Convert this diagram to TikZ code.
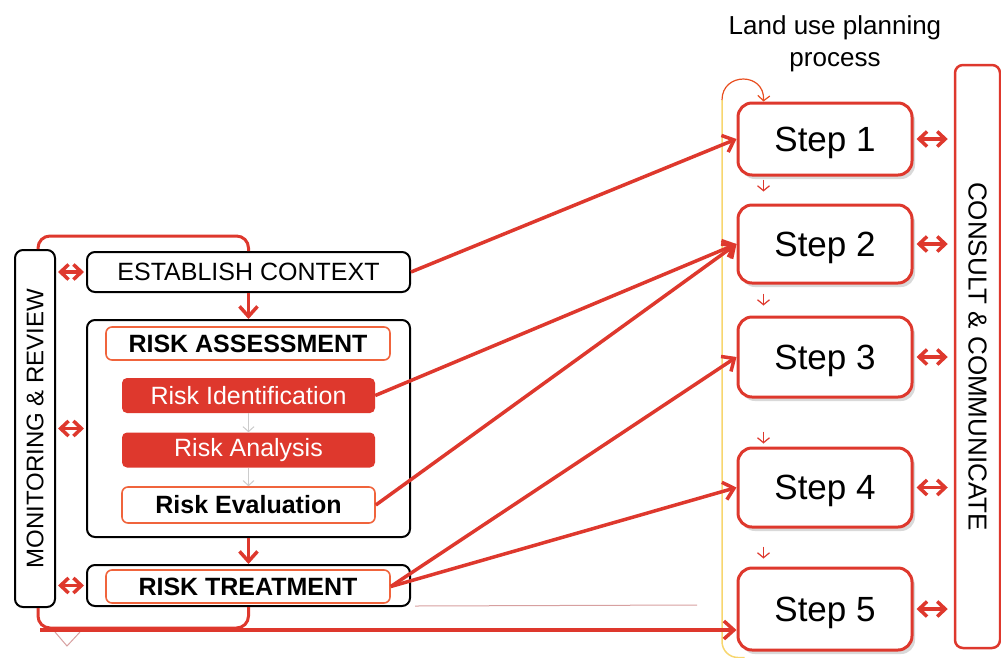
\documentclass[tikz,border=0pt]{standalone}
\usepackage{fontspec}
\setmainfont{Liberation Sans}
\usepackage{xcolor}
\usepackage{tikz}
\usetikzlibrary{shapes.geometric, arrows.meta, shadows, calc}
\definecolor{riskred}{RGB}{222,56,45}
\definecolor{riskorange}{RGB}{240,100,60}
\definecolor{planyellow}{RGB}{247,214,110}
\definecolor{faintred}{RGB}{215,160,160}
\tikzstyle{blkbox} = [rectangle, rounded corners=8pt, draw=black, line width=2pt, inner sep=0pt, fill=white]
\tikzstyle{orgbox} = [rectangle, rounded corners=6pt, draw=riskorange, line width=1.6pt, inner sep=0pt, fill=white, font=\bfseries\fontsize{25}{30}\selectfont]
\tikzstyle{redbox} = [rectangle, rounded corners=5pt, fill=riskred, text=white, inner sep=0pt, minimum width=253pt, minimum height=35pt, font=\fontsize{25}{30}\selectfont]
\tikzstyle{stepbox} = [rectangle, rounded corners=14pt, draw=riskred, line width=3pt, fill=white, minimum width=174pt, text centered, text depth=0pt, font=\fontsize{35}{40}\selectfont, drop shadow={opacity=0.3, shadow xshift=3pt, shadow yshift=-4pt}]
\tikzstyle{link} = [riskred, line width=3.5pt, -{Straight Barb[length=10pt,width=18pt]}]
\tikzstyle{dbl} = [riskred, line width=3.5pt, {Straight Barb[length=8pt,width=15pt]}-{Straight Barb[length=8pt,width=15pt]}]
\tikzstyle{tiny} = [riskred, line width=1.2pt, -{Straight Barb[length=5pt,width=12pt]}]
\tikzstyle{faint} = [black!20, line width=1pt, -{Straight Barb[length=5pt,width=11pt]}]

\begin{document}
\begin{tikzpicture}[x=1pt, y=-1pt]
    \useasboundingbox (0,0) rectangle (1001,657);

    % Left column: risk management
    \node (mon) [blkbox, minimum width=40pt, minimum height=357pt, font=\fontsize{24}{28}\selectfont] at (35,428.5) {\rotatebox{90}{MONITORING \& REVIEW}};
    \node (ctx) [blkbox, minimum width=323pt, minimum height=40pt, font=\fontsize{25}{30}\selectfont] at (248.5,272) {ESTABLISH CONTEXT};
    \node (assess) [blkbox, minimum width=323pt, minimum height=217pt] at (248.5,428.5) {};
    \node (asstitle) [orgbox, minimum width=284pt, minimum height=33pt] at (248,343.5) {RISK ASSESSMENT};
    \node (ident) [redbox] at (248.5,395.5) {Risk Identification};
    \node (anal) [redbox] at (248.5,450) {Risk Analysis};
    \node (eval) [orgbox, minimum width=253pt, minimum height=36pt] at (248.5,505) {Risk Evaluation};
    \node (treatout) [blkbox, minimum width=323pt, minimum height=41pt] at (248.5,585.5) {};
    \node (treat) [orgbox, minimum width=284pt, minimum height=33pt] at (248,586.5) {RISK TREATMENT};

    % Right column: land use planning
    \node (title) [align=center, font=\fontsize{26}{32}\selectfont] at (835,44) {Land use planning\\process};
    \node (s1) [stepbox, minimum height=72pt] at (825,139) {Step 1};
    \node (s2) [stepbox, minimum height=78pt] at (825,244) {Step 2};
    \node (s3) [stepbox, minimum height=80pt] at (825,357) {Step 3};
    \node (s4) [stepbox, minimum height=79pt] at (825,487.5) {Step 4};
    \node (s5) [stepbox, minimum height=82pt] at (825,609) {Step 5};
    \node (con) [rectangle, rounded corners=8pt, draw=riskred, line width=2.5pt, inner sep=0pt, minimum width=45pt, minimum height=583pt, font=\fontsize{26}{30}\selectfont] at (977.5,356.5) {\rotatebox{-90}{CONSULT \& COMMUNICATE}};
    \coordinate (fb) at (40,630);

    % Left side arrows and loops
    \draw [link] (ctx) -- (assess);
    \draw [link] (assess) -- (treatout);
    \draw [faint] (ident) -- (anal);
    \draw [faint] (anal) -- (eval);
    \draw [dbl, shorten <=2pt, shorten >=2pt] (ctx.west -| mon.east) -- (ctx.west);
    \draw [dbl, shorten <=2pt, shorten >=2pt] (assess.west -| mon.east) -- (assess.west);
    \draw [dbl, shorten <=2pt, shorten >=2pt] (treatout.west -| mon.east) -- (treatout.west);
    \draw [riskred, line width=3pt, rounded corners=12pt] ([xshift=3pt]mon.north) -- ++(0,-13) -| (ctx.north);
    \draw [riskred, line width=3pt, rounded corners=12pt] ([xshift=3pt]mon.south) -- ++(0,20) -| (treatout.south);
    \draw [faintred, line width=1pt] (treatout.south east) ++(4,-1) -- (697,605);
    \draw [faintred, line width=1pt] (55,632) -- (67,646) -- (80,632);

    % Planning loop
    \draw [planyellow, line width=1.5pt, rounded corners=16pt] ($(s5.south west)+(8,6)$) -| (722,100);
    \draw [riskred!70!orange, line width=1.2pt, -{Straight Barb[length=5pt,width=12pt]}] (722,100) .. controls (722,72) and (765,72) .. ([xshift=27pt]s1.north west);
    \draw [tiny] ([xshift=27pt, yshift=-3pt]s1.south west) -- ++(0,12);
    \draw [tiny] ([xshift=27pt, yshift=-9pt]s2.south west) -- ++(0,12);
    \draw [tiny] ([xshift=27pt, yshift=-33pt]s3.south west) -- ++(0,12);
    \draw [tiny] ([xshift=27pt, yshift=-18pt]s4.south west) -- ++(0,12);

    % Links between the two processes
    \draw [link] (ctx.east) -- (s1.west);
    \draw [link] (ident.east) -- (s2.west);
    \draw [link] (eval.east) -- (s2.west);
    \draw [link] (treat.east) -- (s3.west);
    \draw [link] (treat.east) -- (s4.west);
    \draw [link] (fb) -- (fb -| s5.west);

    % Consult and communicate
    \foreach \s in {s1,s2,s3,s4,s5}
        \draw [dbl, shorten <=3pt, shorten >=6pt] (\s.east) -- (\s.east -| con.west);

\end{tikzpicture}
\end{document}
